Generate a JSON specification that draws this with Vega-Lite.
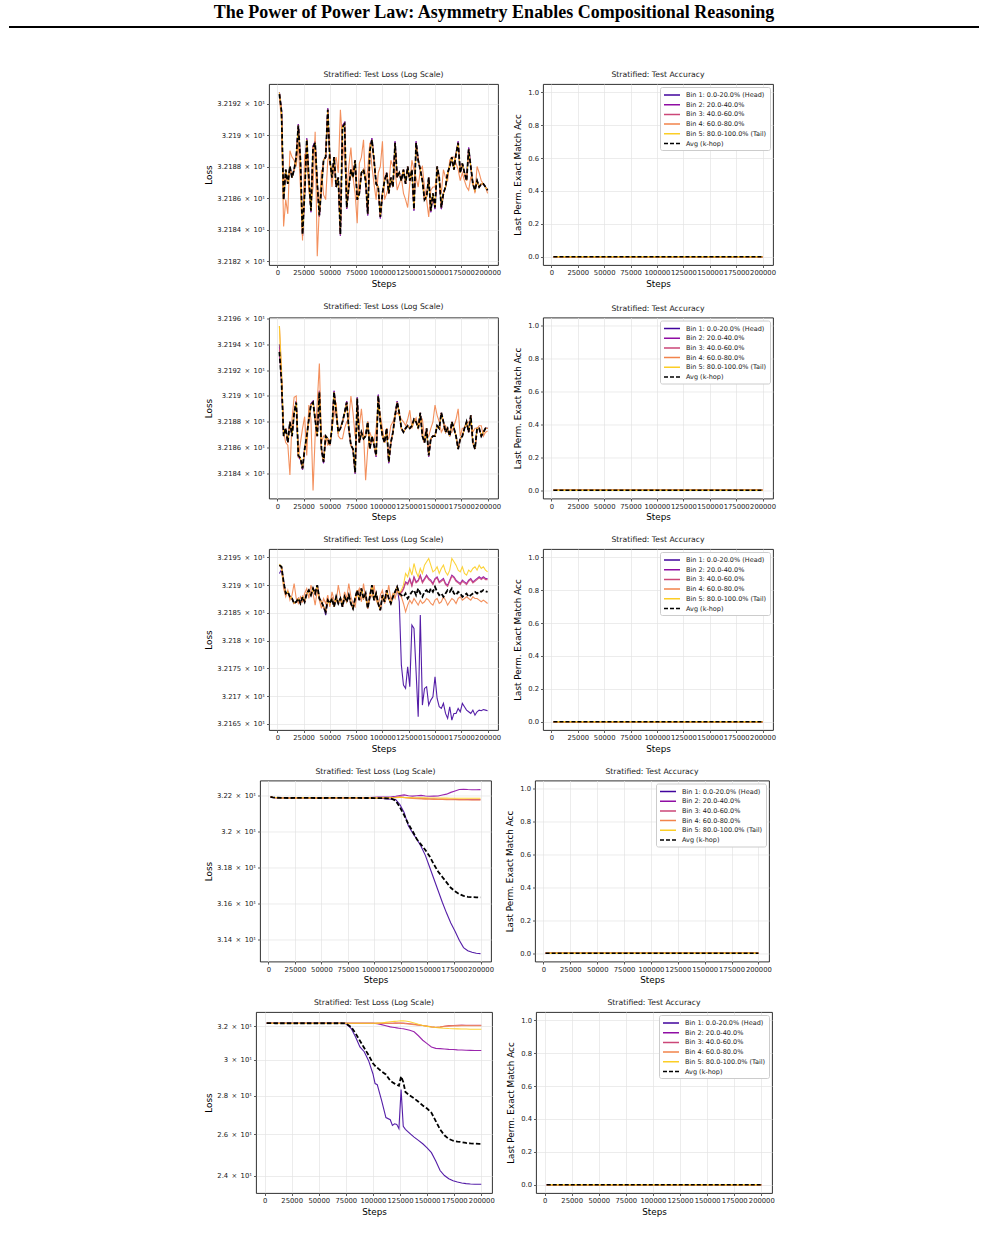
{
"$schema": "https://vega.github.io/schema/vega-lite/v6.json",
"padding": {"left": 8, "top": 4, "right": 5, "bottom": 5},
"config": {
 "font": "DejaVu Sans",
 "view": {"stroke": "#1a1a1a", "strokeWidth": 0.9},
 "axis": {"domain": false, "grid": true, "gridColor": "#e4e4e4", "gridWidth": 0.7, "tickColor": "#1a1a1a", "tickSize": 2.5, "tickWidth": 0.7, "labelFont": "DejaVu Sans", "labelFontSize": 6.8, "labelColor": "#1a1a1a", "labelPadding": 2, "labelOverlap": false, "labelFlush": false, "labelBound": false, "titleFont": "DejaVu Sans", "titleFontSize": 8.8, "titleFontWeight": "normal", "titleColor": "black", "titlePadding": 3},
 "title": {"font": "DejaVu Sans", "fontSize": 7.7, "fontWeight": "normal", "color": "#1a1a1a", "offset": 5},
 "legend": {"orient": "top-right", "offset": 3, "fillColor": "white", "strokeColor": "#cccccc", "padding": 3, "cornerRadius": 2, "labelFont": "DejaVu Sans", "labelFontSize": 6.5, "labelColor": "#1a1a1a", "symbolType": "M-2,0H2", "symbolSize": 64, "symbolStrokeWidth": 1.5, "symbolOffset": 4, "rowPadding": 0.7, "labelOffset": 9}
},
"datasets": {
"acc": [
{"s":2000,"series":"Bin 1: 0.0-20.0% (Head)","acc":0},{"s":200000,"series":"Bin 1: 0.0-20.0% (Head)","acc":0},
{"s":2000,"series":"Bin 2: 20.0-40.0%","acc":0},{"s":200000,"series":"Bin 2: 20.0-40.0%","acc":0},
{"s":2000,"series":"Bin 3: 40.0-60.0%","acc":0},{"s":200000,"series":"Bin 3: 40.0-60.0%","acc":0},
{"s":2000,"series":"Bin 4: 60.0-80.0%","acc":0},{"s":200000,"series":"Bin 4: 60.0-80.0%","acc":0},
{"s":2000,"series":"Bin 5: 80.0-100.0% (Tail)","acc":0},{"s":200000,"series":"Bin 5: 80.0-100.0% (Tail)","acc":0},
{"s":2000,"series":"Avg (k-hop)","acc":0},{"s":200000,"series":"Avg (k-hop)","acc":0}
],
"loss1": [
{"s":2000,"bin1":32.1927,"bin2":32.1927,"bin3":32.1926,"bin4":32.1924,"bin5":32.1927,"mean":32.1926},
{"s":4000,"bin1":32.1916,"bin2":32.1916,"bin3":32.1915,"bin4":32.1909,"bin5":32.1915,"mean":32.1915},
{"s":6000,"bin1":32.1859,"bin2":32.1859,"bin3":32.1859,"bin4":32.1842,"bin5":32.1859,"mean":32.1859},
{"s":8000,"bin1":32.1878,"bin2":32.1878,"bin3":32.1878,"bin4":32.1859,"bin5":32.1878,"mean":32.1878},
{"s":10000,"bin1":32.1869,"bin2":32.1869,"bin3":32.1869,"bin4":32.185,"bin5":32.1869,"mean":32.1869},
{"s":12000,"bin1":32.188,"bin2":32.188,"bin3":32.188,"bin4":32.189,"bin5":32.188,"mean":32.188},
{"s":14000,"bin1":32.1873,"bin2":32.1873,"bin3":32.1873,"bin4":32.1886,"bin5":32.1873,"mean":32.1873},
{"s":16000,"bin1":32.1878,"bin2":32.1878,"bin3":32.1878,"bin4":32.1884,"bin5":32.1878,"mean":32.1878},
{"s":18000,"bin1":32.1886,"bin2":32.1886,"bin3":32.1886,"bin4":32.188,"bin5":32.1886,"mean":32.1886},
{"s":20000,"bin1":32.1907,"bin2":32.1907,"bin3":32.1906,"bin4":32.1895,"bin5":32.1906,"mean":32.1906},
{"s":22000,"bin1":32.1884,"bin2":32.1884,"bin3":32.1884,"bin4":32.1867,"bin5":32.1884,"mean":32.1884},
{"s":24000,"bin1":32.1836,"bin2":32.1836,"bin3":32.1837,"bin4":32.1833,"bin5":32.1837,"mean":32.1837},
{"s":26000,"bin1":32.1863,"bin2":32.1863,"bin3":32.1863,"bin4":32.1888,"bin5":32.1863,"mean":32.1863},
{"s":28000,"bin1":32.1898,"bin2":32.1898,"bin3":32.1897,"bin4":32.1884,"bin5":32.1897,"mean":32.1897},
{"s":30000,"bin1":32.1873,"bin2":32.1873,"bin3":32.1873,"bin4":32.1865,"bin5":32.1873,"mean":32.1873},
{"s":32000,"bin1":32.1851,"bin2":32.1851,"bin3":32.1852,"bin4":32.1854,"bin5":32.1852,"mean":32.1852},
{"s":34000,"bin1":32.1893,"bin2":32.1893,"bin3":32.1892,"bin4":32.1867,"bin5":32.1892,"mean":32.1892},
{"s":36000,"bin1":32.1896,"bin2":32.1896,"bin3":32.1895,"bin4":32.1902,"bin5":32.1895,"mean":32.1895},
{"s":38000,"bin1":32.1869,"bin2":32.1869,"bin3":32.1869,"bin4":32.1823,"bin5":32.1869,"mean":32.1869},
{"s":40000,"bin1":32.1848,"bin2":32.1848,"bin3":32.1849,"bin4":32.1854,"bin5":32.1849,"mean":32.1849},
{"s":42000,"bin1":32.1867,"bin2":32.1867,"bin3":32.1867,"bin4":32.1878,"bin5":32.1867,"mean":32.1867},
{"s":44000,"bin1":32.1884,"bin2":32.1884,"bin3":32.1884,"bin4":32.1862,"bin5":32.1884,"mean":32.1884},
{"s":46000,"bin1":32.1886,"bin2":32.1886,"bin3":32.1886,"bin4":32.1859,"bin5":32.1886,"mean":32.1886},
{"s":48000,"bin1":32.1917,"bin2":32.1917,"bin3":32.1916,"bin4":32.1884,"bin5":32.1916,"mean":32.1916},
{"s":50000,"bin1":32.1884,"bin2":32.1884,"bin3":32.1884,"bin4":32.1888,"bin5":32.1884,"mean":32.1884},
{"s":52000,"bin1":32.1873,"bin2":32.1873,"bin3":32.1873,"bin4":32.1867,"bin5":32.1873,"mean":32.1873},
{"s":54000,"bin1":32.1886,"bin2":32.1886,"bin3":32.1886,"bin4":32.1882,"bin5":32.1886,"mean":32.1886},
{"s":56000,"bin1":32.1867,"bin2":32.1867,"bin3":32.1867,"bin4":32.1886,"bin5":32.1867,"mean":32.1867},
{"s":58000,"bin1":32.1873,"bin2":32.1873,"bin3":32.1873,"bin4":32.1876,"bin5":32.1873,"mean":32.1873},
{"s":60000,"bin1":32.1836,"bin2":32.1836,"bin3":32.1837,"bin4":32.1916,"bin5":32.1837,"mean":32.1837},
{"s":62000,"bin1":32.1906,"bin2":32.1906,"bin3":32.1905,"bin4":32.1896,"bin5":32.1905,"mean":32.1905},
{"s":64000,"bin1":32.1908,"bin2":32.1908,"bin3":32.1907,"bin4":32.1884,"bin5":32.1907,"mean":32.1907},
{"s":66000,"bin1":32.1853,"bin2":32.1853,"bin3":32.1854,"bin4":32.1863,"bin5":32.1854,"mean":32.1854},
{"s":68000,"bin1":32.1867,"bin2":32.1867,"bin3":32.1867,"bin4":32.188,"bin5":32.1867,"mean":32.1867},
{"s":70000,"bin1":32.1878,"bin2":32.1878,"bin3":32.1878,"bin4":32.1892,"bin5":32.1878,"mean":32.1878},
{"s":72000,"bin1":32.1873,"bin2":32.1873,"bin3":32.1873,"bin4":32.1873,"bin5":32.1873,"mean":32.1873},
{"s":74000,"bin1":32.1884,"bin2":32.1884,"bin3":32.1884,"bin4":32.1863,"bin5":32.1884,"mean":32.1884},
{"s":76000,"bin1":32.1859,"bin2":32.1859,"bin3":32.1859,"bin4":32.1844,"bin5":32.1859,"mean":32.1859},
{"s":78000,"bin1":32.1863,"bin2":32.1863,"bin3":32.1863,"bin4":32.1882,"bin5":32.1863,"mean":32.1863},
{"s":80000,"bin1":32.1876,"bin2":32.1876,"bin3":32.1876,"bin4":32.1886,"bin5":32.1876,"mean":32.1876},
{"s":82000,"bin1":32.1878,"bin2":32.1878,"bin3":32.1878,"bin4":32.1897,"bin5":32.1878,"mean":32.1878},
{"s":84000,"bin1":32.1871,"bin2":32.1871,"bin3":32.1871,"bin4":32.1867,"bin5":32.1871,"mean":32.1871},
{"s":86000,"bin1":32.1849,"bin2":32.1849,"bin3":32.185,"bin4":32.1878,"bin5":32.185,"mean":32.185},
{"s":88000,"bin1":32.1891,"bin2":32.1891,"bin3":32.189,"bin4":32.1895,"bin5":32.189,"mean":32.189},
{"s":90000,"bin1":32.1898,"bin2":32.1898,"bin3":32.1897,"bin4":32.188,"bin5":32.1897,"mean":32.1897},
{"s":92000,"bin1":32.1884,"bin2":32.1884,"bin3":32.1884,"bin4":32.1869,"bin5":32.1884,"mean":32.1884},
{"s":94000,"bin1":32.1869,"bin2":32.1869,"bin3":32.1869,"bin4":32.1859,"bin5":32.1869,"mean":32.1869},
{"s":96000,"bin1":32.1867,"bin2":32.1867,"bin3":32.1867,"bin4":32.1876,"bin5":32.1867,"mean":32.1867},
{"s":98000,"bin1":32.1847,"bin2":32.1847,"bin3":32.1848,"bin4":32.188,"bin5":32.1848,"mean":32.1848},
{"s":100000,"bin1":32.1863,"bin2":32.1863,"bin3":32.1863,"bin4":32.1896,"bin5":32.1863,"mean":32.1863},
{"s":102000,"bin1":32.1871,"bin2":32.1871,"bin3":32.1871,"bin4":32.1859,"bin5":32.1871,"mean":32.1871},
{"s":104000,"bin1":32.1876,"bin2":32.1876,"bin3":32.1876,"bin4":32.1863,"bin5":32.1876,"mean":32.1876},
{"s":106000,"bin1":32.1863,"bin2":32.1863,"bin3":32.1863,"bin4":32.1867,"bin5":32.1863,"mean":32.1863},
{"s":108000,"bin1":32.1873,"bin2":32.1873,"bin3":32.1873,"bin4":32.1884,"bin5":32.1873,"mean":32.1873},
{"s":110000,"bin1":32.1867,"bin2":32.1867,"bin3":32.1867,"bin4":32.188,"bin5":32.1867,"mean":32.1867},
{"s":112000,"bin1":32.1896,"bin2":32.1896,"bin3":32.1895,"bin4":32.1878,"bin5":32.1895,"mean":32.1895},
{"s":114000,"bin1":32.1873,"bin2":32.1873,"bin3":32.1873,"bin4":32.1865,"bin5":32.1873,"mean":32.1873},
{"s":116000,"bin1":32.1876,"bin2":32.1876,"bin3":32.1876,"bin4":32.1869,"bin5":32.1876,"mean":32.1876},
{"s":118000,"bin1":32.1871,"bin2":32.1871,"bin3":32.1871,"bin4":32.1873,"bin5":32.1871,"mean":32.1871},
{"s":120000,"bin1":32.1878,"bin2":32.1878,"bin3":32.1878,"bin4":32.1863,"bin5":32.1878,"mean":32.1878},
{"s":122000,"bin1":32.1869,"bin2":32.1869,"bin3":32.1869,"bin4":32.1859,"bin5":32.1869,"mean":32.1869},
{"s":124000,"bin1":32.188,"bin2":32.188,"bin3":32.188,"bin4":32.1854,"bin5":32.188,"mean":32.188},
{"s":126000,"bin1":32.1871,"bin2":32.1871,"bin3":32.1871,"bin4":32.1869,"bin5":32.1871,"mean":32.1871},
{"s":128000,"bin1":32.1878,"bin2":32.1878,"bin3":32.1878,"bin4":32.1884,"bin5":32.1878,"mean":32.1878},
{"s":130000,"bin1":32.1852,"bin2":32.1852,"bin3":32.1853,"bin4":32.1878,"bin5":32.1853,"mean":32.1853},
{"s":132000,"bin1":32.1896,"bin2":32.1896,"bin3":32.1895,"bin4":32.1873,"bin5":32.1895,"mean":32.1895},
{"s":134000,"bin1":32.1884,"bin2":32.1884,"bin3":32.1884,"bin4":32.1867,"bin5":32.1884,"mean":32.1884},
{"s":136000,"bin1":32.1878,"bin2":32.1878,"bin3":32.1878,"bin4":32.1878,"bin5":32.1878,"mean":32.1878},
{"s":138000,"bin1":32.1871,"bin2":32.1871,"bin3":32.1871,"bin4":32.188,"bin5":32.1871,"mean":32.1871},
{"s":140000,"bin1":32.1859,"bin2":32.1859,"bin3":32.1859,"bin4":32.1867,"bin5":32.1859,"mean":32.1859},
{"s":142000,"bin1":32.1861,"bin2":32.1861,"bin3":32.1861,"bin4":32.1859,"bin5":32.1861,"mean":32.1861},
{"s":144000,"bin1":32.1873,"bin2":32.1873,"bin3":32.1873,"bin4":32.1848,"bin5":32.1873,"mean":32.1873},
{"s":146000,"bin1":32.1851,"bin2":32.1851,"bin3":32.1852,"bin4":32.1865,"bin5":32.1852,"mean":32.1852},
{"s":148000,"bin1":32.1863,"bin2":32.1863,"bin3":32.1863,"bin4":32.1867,"bin5":32.1863,"mean":32.1863},
{"s":150000,"bin1":32.1853,"bin2":32.1853,"bin3":32.1854,"bin4":32.1867,"bin5":32.1854,"mean":32.1854},
{"s":152000,"bin1":32.188,"bin2":32.188,"bin3":32.188,"bin4":32.1876,"bin5":32.188,"mean":32.188},
{"s":154000,"bin1":32.1873,"bin2":32.1873,"bin3":32.1873,"bin4":32.1871,"bin5":32.1873,"mean":32.1873},
{"s":156000,"bin1":32.1853,"bin2":32.1853,"bin3":32.1854,"bin4":32.1863,"bin5":32.1854,"mean":32.1854},
{"s":158000,"bin1":32.1863,"bin2":32.1863,"bin3":32.1863,"bin4":32.1878,"bin5":32.1863,"mean":32.1863},
{"s":160000,"bin1":32.1867,"bin2":32.1867,"bin3":32.1867,"bin4":32.1873,"bin5":32.1867,"mean":32.1867},
{"s":162000,"bin1":32.1876,"bin2":32.1876,"bin3":32.1876,"bin4":32.1871,"bin5":32.1876,"mean":32.1876},
{"s":164000,"bin1":32.188,"bin2":32.188,"bin3":32.188,"bin4":32.1884,"bin5":32.188,"mean":32.188},
{"s":166000,"bin1":32.1886,"bin2":32.1886,"bin3":32.1886,"bin4":32.1886,"bin5":32.1886,"mean":32.1886},
{"s":168000,"bin1":32.1878,"bin2":32.1878,"bin3":32.1878,"bin4":32.1886,"bin5":32.1878,"mean":32.1878},
{"s":170000,"bin1":32.1888,"bin2":32.1888,"bin3":32.1888,"bin4":32.1882,"bin5":32.1888,"mean":32.1888},
{"s":172000,"bin1":32.1896,"bin2":32.1896,"bin3":32.1895,"bin4":32.1878,"bin5":32.1895,"mean":32.1895},
{"s":174000,"bin1":32.1876,"bin2":32.1876,"bin3":32.1876,"bin4":32.1871,"bin5":32.1876,"mean":32.1876},
{"s":176000,"bin1":32.1882,"bin2":32.1882,"bin3":32.1882,"bin4":32.1876,"bin5":32.1882,"mean":32.1882},
{"s":178000,"bin1":32.1876,"bin2":32.1876,"bin3":32.1876,"bin4":32.1871,"bin5":32.1876,"mean":32.1876},
{"s":180000,"bin1":32.1871,"bin2":32.1871,"bin3":32.1871,"bin4":32.1867,"bin5":32.1871,"mean":32.1871},
{"s":182000,"bin1":32.1892,"bin2":32.1892,"bin3":32.1891,"bin4":32.1865,"bin5":32.1891,"mean":32.1891},
{"s":184000,"bin1":32.188,"bin2":32.188,"bin3":32.188,"bin4":32.1873,"bin5":32.188,"mean":32.188},
{"s":186000,"bin1":32.1869,"bin2":32.1869,"bin3":32.1869,"bin4":32.1871,"bin5":32.1869,"mean":32.1869},
{"s":188000,"bin1":32.1865,"bin2":32.1865,"bin3":32.1865,"bin4":32.1863,"bin5":32.1865,"mean":32.1865},
{"s":190000,"bin1":32.1871,"bin2":32.1871,"bin3":32.1871,"bin4":32.188,"bin5":32.1871,"mean":32.1871},
{"s":192000,"bin1":32.1867,"bin2":32.1867,"bin3":32.1867,"bin4":32.1876,"bin5":32.1867,"mean":32.1867},
{"s":194000,"bin1":32.1869,"bin2":32.1869,"bin3":32.1869,"bin4":32.1871,"bin5":32.1869,"mean":32.1869},
{"s":196000,"bin1":32.1869,"bin2":32.1869,"bin3":32.1869,"bin4":32.1869,"bin5":32.1869,"mean":32.1869},
{"s":198000,"bin1":32.1867,"bin2":32.1867,"bin3":32.1867,"bin4":32.1867,"bin5":32.1867,"mean":32.1867},
{"s":200000,"bin1":32.1865,"bin2":32.1865,"bin3":32.1865,"bin4":32.1863,"bin5":32.1865,"mean":32.1865}
],
"loss2": [
{"s":2000,"bin1":32.194,"bin2":32.1938,"bin3":32.1936,"bin4":32.1954,"bin5":32.1954,"mean":32.1934},
{"s":4000,"bin1":32.1912,"bin2":32.1912,"bin3":32.1911,"bin4":32.1921,"bin5":32.1915,"mean":32.1911},
{"s":6000,"bin1":32.1869,"bin2":32.1869,"bin3":32.1869,"bin4":32.1872,"bin5":32.1869,"mean":32.1869},
{"s":8000,"bin1":32.1875,"bin2":32.1875,"bin3":32.1875,"bin4":32.1864,"bin5":32.1875,"mean":32.1875},
{"s":10000,"bin1":32.1864,"bin2":32.1864,"bin3":32.1864,"bin4":32.1862,"bin5":32.1864,"mean":32.1864},
{"s":12000,"bin1":32.188,"bin2":32.188,"bin3":32.188,"bin4":32.1839,"bin5":32.188,"mean":32.188},
{"s":14000,"bin1":32.1869,"bin2":32.1869,"bin3":32.1869,"bin4":32.1882,"bin5":32.1869,"mean":32.1869},
{"s":16000,"bin1":32.1887,"bin2":32.1887,"bin3":32.1887,"bin4":32.1899,"bin5":32.1887,"mean":32.1887},
{"s":18000,"bin1":32.1896,"bin2":32.1896,"bin3":32.1895,"bin4":32.19,"bin5":32.1895,"mean":32.1895},
{"s":20000,"bin1":32.1853,"bin2":32.1853,"bin3":32.1854,"bin4":32.1852,"bin5":32.1854,"mean":32.1854},
{"s":22000,"bin1":32.1851,"bin2":32.1851,"bin3":32.1852,"bin4":32.1864,"bin5":32.1852,"mean":32.1852},
{"s":24000,"bin1":32.1843,"bin2":32.1843,"bin3":32.1844,"bin4":32.1875,"bin5":32.1844,"mean":32.1844},
{"s":26000,"bin1":32.1859,"bin2":32.1859,"bin3":32.1859,"bin4":32.1884,"bin5":32.1859,"mean":32.1859},
{"s":28000,"bin1":32.1869,"bin2":32.1869,"bin3":32.1869,"bin4":32.1854,"bin5":32.1869,"mean":32.1869},
{"s":30000,"bin1":32.1882,"bin2":32.1882,"bin3":32.1882,"bin4":32.1893,"bin5":32.1882,"mean":32.1882},
{"s":32000,"bin1":32.1894,"bin2":32.1894,"bin3":32.1893,"bin4":32.1882,"bin5":32.1893,"mean":32.1893},
{"s":34000,"bin1":32.1896,"bin2":32.1896,"bin3":32.1895,"bin4":32.1827,"bin5":32.1895,"mean":32.1895},
{"s":36000,"bin1":32.1882,"bin2":32.1882,"bin3":32.1882,"bin4":32.1869,"bin5":32.1882,"mean":32.1882},
{"s":38000,"bin1":32.1869,"bin2":32.1869,"bin3":32.1869,"bin4":32.1895,"bin5":32.1869,"mean":32.1869},
{"s":40000,"bin1":32.1904,"bin2":32.1904,"bin3":32.1903,"bin4":32.1925,"bin5":32.1903,"mean":32.1903},
{"s":42000,"bin1":32.1859,"bin2":32.1859,"bin3":32.1859,"bin4":32.1864,"bin5":32.1859,"mean":32.1859},
{"s":44000,"bin1":32.1848,"bin2":32.1848,"bin3":32.1849,"bin4":32.1869,"bin5":32.1849,"mean":32.1849},
{"s":46000,"bin1":32.1869,"bin2":32.1869,"bin3":32.1869,"bin4":32.1869,"bin5":32.1869,"mean":32.1869},
{"s":48000,"bin1":32.1867,"bin2":32.1867,"bin3":32.1867,"bin4":32.1862,"bin5":32.1867,"mean":32.1867},
{"s":50000,"bin1":32.1862,"bin2":32.1862,"bin3":32.1862,"bin4":32.1864,"bin5":32.1862,"mean":32.1862},
{"s":52000,"bin1":32.1875,"bin2":32.1875,"bin3":32.1875,"bin4":32.1875,"bin5":32.1875,"mean":32.1875},
{"s":54000,"bin1":32.1904,"bin2":32.1904,"bin3":32.1903,"bin4":32.1885,"bin5":32.1903,"mean":32.1903},
{"s":56000,"bin1":32.1887,"bin2":32.1887,"bin3":32.1887,"bin4":32.1895,"bin5":32.1887,"mean":32.1887},
{"s":58000,"bin1":32.1872,"bin2":32.1872,"bin3":32.1872,"bin4":32.1869,"bin5":32.1872,"mean":32.1872},
{"s":60000,"bin1":32.1875,"bin2":32.1875,"bin3":32.1875,"bin4":32.1867,"bin5":32.1875,"mean":32.1875},
{"s":62000,"bin1":32.188,"bin2":32.188,"bin3":32.188,"bin4":32.1867,"bin5":32.188,"mean":32.188},
{"s":64000,"bin1":32.1887,"bin2":32.1887,"bin3":32.1887,"bin4":32.1875,"bin5":32.1887,"mean":32.1887},
{"s":66000,"bin1":32.1896,"bin2":32.1896,"bin3":32.1895,"bin4":32.188,"bin5":32.1895,"mean":32.1895},
{"s":68000,"bin1":32.1875,"bin2":32.1875,"bin3":32.1875,"bin4":32.1882,"bin5":32.1875,"mean":32.1875},
{"s":70000,"bin1":32.1862,"bin2":32.1862,"bin3":32.1862,"bin4":32.19,"bin5":32.1862,"mean":32.1862},
{"s":72000,"bin1":32.1859,"bin2":32.1859,"bin3":32.1859,"bin4":32.1887,"bin5":32.1859,"mean":32.1859},
{"s":74000,"bin1":32.184,"bin2":32.184,"bin3":32.1841,"bin4":32.1869,"bin5":32.1841,"mean":32.1841},
{"s":76000,"bin1":32.1899,"bin2":32.1899,"bin3":32.1898,"bin4":32.1875,"bin5":32.1898,"mean":32.1898},
{"s":78000,"bin1":32.1864,"bin2":32.1864,"bin3":32.1864,"bin4":32.1877,"bin5":32.1864,"mean":32.1864},
{"s":80000,"bin1":32.1872,"bin2":32.1872,"bin3":32.1872,"bin4":32.189,"bin5":32.1872,"mean":32.1872},
{"s":82000,"bin1":32.1867,"bin2":32.1867,"bin3":32.1867,"bin4":32.1872,"bin5":32.1867,"mean":32.1867},
{"s":84000,"bin1":32.1869,"bin2":32.1869,"bin3":32.1869,"bin4":32.1835,"bin5":32.1869,"mean":32.1869},
{"s":86000,"bin1":32.188,"bin2":32.188,"bin3":32.188,"bin4":32.1859,"bin5":32.188,"mean":32.188},
{"s":88000,"bin1":32.1859,"bin2":32.1859,"bin3":32.1859,"bin4":32.1872,"bin5":32.1859,"mean":32.1859},
{"s":90000,"bin1":32.1869,"bin2":32.1869,"bin3":32.1869,"bin4":32.1867,"bin5":32.1869,"mean":32.1869},
{"s":92000,"bin1":32.1862,"bin2":32.1862,"bin3":32.1862,"bin4":32.1864,"bin5":32.1862,"mean":32.1862},
{"s":94000,"bin1":32.1853,"bin2":32.1853,"bin3":32.1854,"bin4":32.1875,"bin5":32.1854,"mean":32.1854},
{"s":96000,"bin1":32.1901,"bin2":32.1901,"bin3":32.19,"bin4":32.1895,"bin5":32.19,"mean":32.19},
{"s":98000,"bin1":32.188,"bin2":32.188,"bin3":32.188,"bin4":32.1885,"bin5":32.188,"mean":32.188},
{"s":100000,"bin1":32.1869,"bin2":32.1869,"bin3":32.1869,"bin4":32.1875,"bin5":32.1869,"mean":32.1869},
{"s":102000,"bin1":32.1864,"bin2":32.1864,"bin3":32.1864,"bin4":32.1864,"bin5":32.1864,"mean":32.1864},
{"s":104000,"bin1":32.1875,"bin2":32.1875,"bin3":32.1875,"bin4":32.1869,"bin5":32.1875,"mean":32.1875},
{"s":106000,"bin1":32.1848,"bin2":32.1848,"bin3":32.1849,"bin4":32.1867,"bin5":32.1849,"mean":32.1849},
{"s":108000,"bin1":32.1864,"bin2":32.1864,"bin3":32.1864,"bin4":32.1877,"bin5":32.1864,"mean":32.1864},
{"s":110000,"bin1":32.1872,"bin2":32.1872,"bin3":32.1872,"bin4":32.188,"bin5":32.1872,"mean":32.1872},
{"s":112000,"bin1":32.1885,"bin2":32.1885,"bin3":32.1885,"bin4":32.1885,"bin5":32.1885,"mean":32.1885},
{"s":114000,"bin1":32.1896,"bin2":32.1896,"bin3":32.1895,"bin4":32.1887,"bin5":32.1895,"mean":32.1895},
{"s":116000,"bin1":32.1887,"bin2":32.1887,"bin3":32.1887,"bin4":32.1885,"bin5":32.1887,"mean":32.1887},
{"s":118000,"bin1":32.1875,"bin2":32.1875,"bin3":32.1875,"bin4":32.1882,"bin5":32.1875,"mean":32.1875},
{"s":120000,"bin1":32.1872,"bin2":32.1872,"bin3":32.1872,"bin4":32.188,"bin5":32.1872,"mean":32.1872},
{"s":122000,"bin1":32.1875,"bin2":32.1875,"bin3":32.1875,"bin4":32.1877,"bin5":32.1875,"mean":32.1875},
{"s":124000,"bin1":32.1877,"bin2":32.1877,"bin3":32.1877,"bin4":32.1882,"bin5":32.1877,"mean":32.1877},
{"s":126000,"bin1":32.1875,"bin2":32.1875,"bin3":32.1875,"bin4":32.1889,"bin5":32.1875,"mean":32.1875},
{"s":128000,"bin1":32.1877,"bin2":32.1877,"bin3":32.1877,"bin4":32.1875,"bin5":32.1877,"mean":32.1877},
{"s":130000,"bin1":32.1882,"bin2":32.1882,"bin3":32.1882,"bin4":32.188,"bin5":32.1882,"mean":32.1882},
{"s":132000,"bin1":32.188,"bin2":32.188,"bin3":32.188,"bin4":32.1883,"bin5":32.188,"mean":32.188},
{"s":134000,"bin1":32.1875,"bin2":32.1875,"bin3":32.1875,"bin4":32.1875,"bin5":32.1875,"mean":32.1875},
{"s":136000,"bin1":32.1887,"bin2":32.1887,"bin3":32.1887,"bin4":32.188,"bin5":32.1887,"mean":32.1887},
{"s":138000,"bin1":32.1869,"bin2":32.1869,"bin3":32.1869,"bin4":32.1882,"bin5":32.1869,"mean":32.1869},
{"s":140000,"bin1":32.1864,"bin2":32.1864,"bin3":32.1864,"bin4":32.1867,"bin5":32.1864,"mean":32.1864},
{"s":142000,"bin1":32.1875,"bin2":32.1875,"bin3":32.1875,"bin4":32.1869,"bin5":32.1875,"mean":32.1875},
{"s":144000,"bin1":32.1853,"bin2":32.1853,"bin3":32.1854,"bin4":32.1869,"bin5":32.1854,"mean":32.1854},
{"s":146000,"bin1":32.1867,"bin2":32.1867,"bin3":32.1867,"bin4":32.1875,"bin5":32.1867,"mean":32.1867},
{"s":148000,"bin1":32.1869,"bin2":32.1869,"bin3":32.1869,"bin4":32.188,"bin5":32.1869,"mean":32.1869},
{"s":150000,"bin1":32.1869,"bin2":32.1869,"bin3":32.1869,"bin4":32.1893,"bin5":32.1869,"mean":32.1869},
{"s":152000,"bin1":32.1877,"bin2":32.1877,"bin3":32.1877,"bin4":32.1885,"bin5":32.1877,"mean":32.1877},
{"s":154000,"bin1":32.1875,"bin2":32.1875,"bin3":32.1875,"bin4":32.188,"bin5":32.1875,"mean":32.1875},
{"s":156000,"bin1":32.1887,"bin2":32.1887,"bin3":32.1887,"bin4":32.1872,"bin5":32.1887,"mean":32.1887},
{"s":158000,"bin1":32.188,"bin2":32.188,"bin3":32.188,"bin4":32.1875,"bin5":32.188,"mean":32.188},
{"s":160000,"bin1":32.1872,"bin2":32.1872,"bin3":32.1872,"bin4":32.1877,"bin5":32.1872,"mean":32.1872},
{"s":162000,"bin1":32.1875,"bin2":32.1875,"bin3":32.1875,"bin4":32.1872,"bin5":32.1875,"mean":32.1875},
{"s":164000,"bin1":32.1869,"bin2":32.1869,"bin3":32.1869,"bin4":32.1871,"bin5":32.1869,"mean":32.1869},
{"s":166000,"bin1":32.188,"bin2":32.188,"bin3":32.188,"bin4":32.1872,"bin5":32.188,"mean":32.188},
{"s":168000,"bin1":32.1875,"bin2":32.1875,"bin3":32.1875,"bin4":32.1877,"bin5":32.1875,"mean":32.1875},
{"s":170000,"bin1":32.1869,"bin2":32.1869,"bin3":32.1869,"bin4":32.1882,"bin5":32.1869,"mean":32.1869},
{"s":172000,"bin1":32.1859,"bin2":32.1859,"bin3":32.1859,"bin4":32.189,"bin5":32.1859,"mean":32.1859},
{"s":174000,"bin1":32.1867,"bin2":32.1867,"bin3":32.1867,"bin4":32.1869,"bin5":32.1867,"mean":32.1867},
{"s":176000,"bin1":32.1869,"bin2":32.1869,"bin3":32.1869,"bin4":32.1875,"bin5":32.1869,"mean":32.1869},
{"s":178000,"bin1":32.1875,"bin2":32.1875,"bin3":32.1875,"bin4":32.1875,"bin5":32.1875,"mean":32.1875},
{"s":180000,"bin1":32.188,"bin2":32.188,"bin3":32.188,"bin4":32.1877,"bin5":32.188,"mean":32.188},
{"s":182000,"bin1":32.1872,"bin2":32.1872,"bin3":32.1872,"bin4":32.188,"bin5":32.1872,"mean":32.1872},
{"s":184000,"bin1":32.1885,"bin2":32.1885,"bin3":32.1885,"bin4":32.188,"bin5":32.1885,"mean":32.1885},
{"s":186000,"bin1":32.1864,"bin2":32.1864,"bin3":32.1864,"bin4":32.1872,"bin5":32.1864,"mean":32.1864},
{"s":188000,"bin1":32.1859,"bin2":32.1859,"bin3":32.1859,"bin4":32.1875,"bin5":32.1859,"mean":32.1859},
{"s":190000,"bin1":32.1875,"bin2":32.1875,"bin3":32.1875,"bin4":32.1875,"bin5":32.1875,"mean":32.1875},
{"s":192000,"bin1":32.1875,"bin2":32.1875,"bin3":32.1875,"bin4":32.1877,"bin5":32.1875,"mean":32.1875},
{"s":194000,"bin1":32.1869,"bin2":32.1869,"bin3":32.1869,"bin4":32.1877,"bin5":32.1869,"mean":32.1869},
{"s":196000,"bin1":32.1872,"bin2":32.1872,"bin3":32.1872,"bin4":32.1869,"bin5":32.1872,"mean":32.1872},
{"s":198000,"bin1":32.1875,"bin2":32.1875,"bin3":32.1875,"bin4":32.1872,"bin5":32.1875,"mean":32.1875},
{"s":200000,"bin1":32.1875,"bin2":32.1875,"bin3":32.1875,"bin4":32.1873,"bin5":32.1875,"mean":32.1875}
],
"loss3": [
{"s":2000,"bin1":32.1921,"bin2":32.1936,"bin3":32.1936,"bin4":32.1936,"bin5":32.1938,"mean":32.1936},
{"s":4000,"bin1":32.1928,"bin2":32.1933,"bin3":32.1933,"bin4":32.193,"bin5":32.1933,"mean":32.1933},
{"s":6000,"bin1":32.1906,"bin2":32.1906,"bin3":32.1906,"bin4":32.1894,"bin5":32.1906,"mean":32.1906},
{"s":8000,"bin1":32.1885,"bin2":32.1885,"bin3":32.1885,"bin4":32.1879,"bin5":32.1885,"mean":32.1885},
{"s":10000,"bin1":32.1888,"bin2":32.1888,"bin3":32.1888,"bin4":32.1891,"bin5":32.1888,"mean":32.1888},
{"s":12000,"bin1":32.1879,"bin2":32.1879,"bin3":32.1879,"bin4":32.1873,"bin5":32.1879,"mean":32.1879},
{"s":14000,"bin1":32.1876,"bin2":32.1876,"bin3":32.1876,"bin4":32.1882,"bin5":32.1876,"mean":32.1876},
{"s":16000,"bin1":32.1867,"bin2":32.1867,"bin3":32.1867,"bin4":32.1903,"bin5":32.1867,"mean":32.1867},
{"s":18000,"bin1":32.187,"bin2":32.187,"bin3":32.187,"bin4":32.1876,"bin5":32.187,"mean":32.187},
{"s":20000,"bin1":32.1876,"bin2":32.1876,"bin3":32.1876,"bin4":32.1867,"bin5":32.1876,"mean":32.1876},
{"s":22000,"bin1":32.1867,"bin2":32.1867,"bin3":32.1867,"bin4":32.1879,"bin5":32.1867,"mean":32.1867},
{"s":24000,"bin1":32.1879,"bin2":32.1879,"bin3":32.1879,"bin4":32.187,"bin5":32.1879,"mean":32.1879},
{"s":26000,"bin1":32.187,"bin2":32.187,"bin3":32.187,"bin4":32.1885,"bin5":32.187,"mean":32.187},
{"s":28000,"bin1":32.1885,"bin2":32.1885,"bin3":32.1885,"bin4":32.1894,"bin5":32.1885,"mean":32.1885},
{"s":30000,"bin1":32.1891,"bin2":32.1891,"bin3":32.1891,"bin4":32.1876,"bin5":32.1891,"mean":32.1891},
{"s":32000,"bin1":32.1882,"bin2":32.1882,"bin3":32.1882,"bin4":32.19,"bin5":32.1882,"mean":32.1882},
{"s":34000,"bin1":32.1894,"bin2":32.1894,"bin3":32.1894,"bin4":32.1885,"bin5":32.1894,"mean":32.1894},
{"s":36000,"bin1":32.1885,"bin2":32.1885,"bin3":32.1885,"bin4":32.1864,"bin5":32.1885,"mean":32.1885},
{"s":38000,"bin1":32.19,"bin2":32.19,"bin3":32.19,"bin4":32.1891,"bin5":32.19,"mean":32.19},
{"s":40000,"bin1":32.1876,"bin2":32.1876,"bin3":32.1876,"bin4":32.1873,"bin5":32.1876,"mean":32.1876},
{"s":42000,"bin1":32.187,"bin2":32.187,"bin3":32.187,"bin4":32.1858,"bin5":32.187,"mean":32.187},
{"s":44000,"bin1":32.1861,"bin2":32.1861,"bin3":32.1861,"bin4":32.1876,"bin5":32.1861,"mean":32.1861},
{"s":46000,"bin1":32.1846,"bin2":32.1852,"bin3":32.1852,"bin4":32.1867,"bin5":32.1852,"mean":32.1852},
{"s":48000,"bin1":32.1873,"bin2":32.1873,"bin3":32.1873,"bin4":32.1882,"bin5":32.1873,"mean":32.1873},
{"s":50000,"bin1":32.1867,"bin2":32.1867,"bin3":32.1867,"bin4":32.1861,"bin5":32.1867,"mean":32.1867},
{"s":52000,"bin1":32.1876,"bin2":32.1876,"bin3":32.1876,"bin4":32.1888,"bin5":32.1876,"mean":32.1876},
{"s":54000,"bin1":32.1861,"bin2":32.1861,"bin3":32.1861,"bin4":32.1873,"bin5":32.1861,"mean":32.1861},
{"s":56000,"bin1":32.1879,"bin2":32.1879,"bin3":32.1879,"bin4":32.187,"bin5":32.1879,"mean":32.1879},
{"s":58000,"bin1":32.1867,"bin2":32.1867,"bin3":32.1867,"bin4":32.19,"bin5":32.1867,"mean":32.1867},
{"s":60000,"bin1":32.1876,"bin2":32.1876,"bin3":32.1876,"bin4":32.1879,"bin5":32.1876,"mean":32.1876},
{"s":62000,"bin1":32.1861,"bin2":32.1861,"bin3":32.1861,"bin4":32.1867,"bin5":32.1861,"mean":32.1861},
{"s":64000,"bin1":32.1879,"bin2":32.1879,"bin3":32.1879,"bin4":32.1888,"bin5":32.1879,"mean":32.1879},
{"s":66000,"bin1":32.187,"bin2":32.187,"bin3":32.187,"bin4":32.1876,"bin5":32.187,"mean":32.187},
{"s":68000,"bin1":32.1882,"bin2":32.1882,"bin3":32.1882,"bin4":32.1903,"bin5":32.1882,"mean":32.1882},
{"s":70000,"bin1":32.1867,"bin2":32.1867,"bin3":32.1867,"bin4":32.1879,"bin5":32.1867,"mean":32.1867},
{"s":72000,"bin1":32.1858,"bin2":32.1858,"bin3":32.1858,"bin4":32.1867,"bin5":32.1858,"mean":32.1858},
{"s":74000,"bin1":32.1876,"bin2":32.1876,"bin3":32.1876,"bin4":32.1861,"bin5":32.1876,"mean":32.1876},
{"s":76000,"bin1":32.1891,"bin2":32.1891,"bin3":32.1891,"bin4":32.1885,"bin5":32.1891,"mean":32.1891},
{"s":78000,"bin1":32.1873,"bin2":32.1873,"bin3":32.1873,"bin4":32.1894,"bin5":32.1873,"mean":32.1873},
{"s":80000,"bin1":32.1894,"bin2":32.1894,"bin3":32.1894,"bin4":32.187,"bin5":32.1894,"mean":32.1894},
{"s":82000,"bin1":32.1876,"bin2":32.1876,"bin3":32.1876,"bin4":32.1903,"bin5":32.1876,"mean":32.1876},
{"s":84000,"bin1":32.1885,"bin2":32.1885,"bin3":32.1885,"bin4":32.1876,"bin5":32.1885,"mean":32.1885},
{"s":86000,"bin1":32.1858,"bin2":32.1858,"bin3":32.1858,"bin4":32.1861,"bin5":32.1858,"mean":32.1858},
{"s":88000,"bin1":32.1879,"bin2":32.1879,"bin3":32.1879,"bin4":32.1885,"bin5":32.1879,"mean":32.1879},
{"s":90000,"bin1":32.19,"bin2":32.19,"bin3":32.19,"bin4":32.1879,"bin5":32.19,"mean":32.19},
{"s":92000,"bin1":32.1873,"bin2":32.1873,"bin3":32.1873,"bin4":32.19,"bin5":32.1873,"mean":32.1873},
{"s":94000,"bin1":32.1885,"bin2":32.1885,"bin3":32.1885,"bin4":32.1873,"bin5":32.1885,"mean":32.1885},
{"s":96000,"bin1":32.1867,"bin2":32.1867,"bin3":32.1867,"bin4":32.1864,"bin5":32.1867,"mean":32.1867},
{"s":98000,"bin1":32.1855,"bin2":32.1855,"bin3":32.1855,"bin4":32.1882,"bin5":32.1855,"mean":32.1855},
{"s":100000,"bin1":32.1882,"bin2":32.1882,"bin3":32.1882,"bin4":32.1891,"bin5":32.1882,"mean":32.1882},
{"s":102000,"bin1":32.187,"bin2":32.187,"bin3":32.187,"bin4":32.1867,"bin5":32.187,"mean":32.187},
{"s":104000,"bin1":32.1891,"bin2":32.1891,"bin3":32.1891,"bin4":32.1879,"bin5":32.1891,"mean":32.1891},
{"s":106000,"bin1":32.1876,"bin2":32.1876,"bin3":32.1876,"bin4":32.19,"bin5":32.1876,"mean":32.1876},
{"s":108000,"bin1":32.1867,"bin2":32.1867,"bin3":32.1867,"bin4":32.1873,"bin5":32.1867,"mean":32.1867},
{"s":110000,"bin1":32.1879,"bin2":32.1879,"bin3":32.1879,"bin4":32.1885,"bin5":32.1879,"mean":32.1879},
{"s":112000,"bin1":32.1888,"bin2":32.1888,"bin3":32.1888,"bin4":32.1876,"bin5":32.1888,"mean":32.1888},
{"s":114000,"bin1":32.1897,"bin2":32.1897,"bin3":32.1897,"bin4":32.1891,"bin5":32.1897,"mean":32.1897},
{"s":116000,"bin1":32.187,"bin2":32.1885,"bin3":32.1885,"bin4":32.1882,"bin5":32.1885,"mean":32.1885},
{"s":118000,"bin1":32.1756,"bin2":32.1888,"bin3":32.1886,"bin4":32.1879,"bin5":32.1891,"mean":32.1882},
{"s":120000,"bin1":32.172,"bin2":32.1894,"bin3":32.1892,"bin4":32.1867,"bin5":32.19,"mean":32.1879},
{"s":122000,"bin1":32.1714,"bin2":32.1906,"bin3":32.1904,"bin4":32.1852,"bin5":32.1921,"mean":32.1885},
{"s":124000,"bin1":32.1753,"bin2":32.1903,"bin3":32.1901,"bin4":32.1864,"bin5":32.1915,"mean":32.1876},
{"s":126000,"bin1":32.1717,"bin2":32.1912,"bin3":32.191,"bin4":32.1873,"bin5":32.193,"mean":32.1882},
{"s":128000,"bin1":32.1828,"bin2":32.19,"bin3":32.1898,"bin4":32.1867,"bin5":32.1918,"mean":32.1888},
{"s":130000,"bin1":32.1822,"bin2":32.1915,"bin3":32.1913,"bin4":32.1876,"bin5":32.1939,"mean":32.1891},
{"s":132000,"bin1":32.1744,"bin2":32.1906,"bin3":32.1904,"bin4":32.187,"bin5":32.1924,"mean":32.1882},
{"s":134000,"bin1":32.1663,"bin2":32.1909,"bin3":32.1907,"bin4":32.1864,"bin5":32.1915,"mean":32.1894},
{"s":136000,"bin1":32.1846,"bin2":32.1918,"bin3":32.1916,"bin4":32.1873,"bin5":32.193,"mean":32.1885},
{"s":138000,"bin1":32.1684,"bin2":32.1906,"bin3":32.1904,"bin4":32.1867,"bin5":32.1921,"mean":32.1879},
{"s":140000,"bin1":32.1714,"bin2":32.1912,"bin3":32.191,"bin4":32.187,"bin5":32.1936,"mean":32.1888},
{"s":142000,"bin1":32.1717,"bin2":32.1918,"bin3":32.1916,"bin4":32.1876,"bin5":32.1942,"mean":32.1891},
{"s":144000,"bin1":32.1684,"bin2":32.1912,"bin3":32.191,"bin4":32.1873,"bin5":32.1948,"mean":32.1885},
{"s":146000,"bin1":32.1693,"bin2":32.1909,"bin3":32.1907,"bin4":32.1867,"bin5":32.1936,"mean":32.1894},
{"s":148000,"bin1":32.1699,"bin2":32.1903,"bin3":32.1901,"bin4":32.1864,"bin5":32.1924,"mean":32.1888},
{"s":150000,"bin1":32.1735,"bin2":32.1912,"bin3":32.191,"bin4":32.1873,"bin5":32.1927,"mean":32.1897},
{"s":152000,"bin1":32.1696,"bin2":32.1915,"bin3":32.1913,"bin4":32.1876,"bin5":32.1933,"mean":32.1888},
{"s":154000,"bin1":32.1681,"bin2":32.1906,"bin3":32.1904,"bin4":32.1867,"bin5":32.1921,"mean":32.1882},
{"s":156000,"bin1":32.1678,"bin2":32.1909,"bin3":32.1907,"bin4":32.187,"bin5":32.193,"mean":32.1885},
{"s":158000,"bin1":32.1687,"bin2":32.1912,"bin3":32.191,"bin4":32.1879,"bin5":32.1936,"mean":32.1879},
{"s":160000,"bin1":32.1669,"bin2":32.1903,"bin3":32.1901,"bin4":32.1873,"bin5":32.1924,"mean":32.1885},
{"s":162000,"bin1":32.166,"bin2":32.19,"bin3":32.1898,"bin4":32.1864,"bin5":32.1918,"mean":32.1891},
{"s":164000,"bin1":32.1681,"bin2":32.1909,"bin3":32.1907,"bin4":32.187,"bin5":32.1927,"mean":32.1888},
{"s":166000,"bin1":32.1657,"bin2":32.1918,"bin3":32.1916,"bin4":32.1876,"bin5":32.1948,"mean":32.1894},
{"s":168000,"bin1":32.1669,"bin2":32.1915,"bin3":32.1913,"bin4":32.1873,"bin5":32.1942,"mean":32.1885},
{"s":170000,"bin1":32.1669,"bin2":32.1909,"bin3":32.1907,"bin4":32.1867,"bin5":32.1936,"mean":32.1882},
{"s":172000,"bin1":32.1678,"bin2":32.1906,"bin3":32.1904,"bin4":32.1876,"bin5":32.1927,"mean":32.1888},
{"s":174000,"bin1":32.1672,"bin2":32.1903,"bin3":32.1901,"bin4":32.1879,"bin5":32.1924,"mean":32.1885},
{"s":176000,"bin1":32.1687,"bin2":32.1909,"bin3":32.1907,"bin4":32.1873,"bin5":32.1933,"mean":32.1879},
{"s":178000,"bin1":32.1681,"bin2":32.1906,"bin3":32.1904,"bin4":32.1876,"bin5":32.1921,"mean":32.1882},
{"s":180000,"bin1":32.1675,"bin2":32.1903,"bin3":32.1901,"bin4":32.1879,"bin5":32.1918,"mean":32.1885},
{"s":182000,"bin1":32.1672,"bin2":32.1909,"bin3":32.1907,"bin4":32.1876,"bin5":32.1927,"mean":32.1879},
{"s":184000,"bin1":32.1669,"bin2":32.1912,"bin3":32.191,"bin4":32.1873,"bin5":32.1924,"mean":32.1882},
{"s":186000,"bin1":32.1675,"bin2":32.1906,"bin3":32.1904,"bin4":32.1879,"bin5":32.193,"mean":32.1885},
{"s":188000,"bin1":32.1666,"bin2":32.1909,"bin3":32.1907,"bin4":32.1876,"bin5":32.1933,"mean":32.1888},
{"s":190000,"bin1":32.1672,"bin2":32.1912,"bin3":32.191,"bin4":32.1876,"bin5":32.1927,"mean":32.1885},
{"s":192000,"bin1":32.1675,"bin2":32.1915,"bin3":32.1913,"bin4":32.1873,"bin5":32.1936,"mean":32.1889},
{"s":194000,"bin1":32.1674,"bin2":32.1912,"bin3":32.191,"bin4":32.187,"bin5":32.193,"mean":32.1888},
{"s":196000,"bin1":32.1676,"bin2":32.1915,"bin3":32.1913,"bin4":32.1873,"bin5":32.1933,"mean":32.1891},
{"s":198000,"bin1":32.1675,"bin2":32.1912,"bin3":32.191,"bin4":32.187,"bin5":32.1927,"mean":32.1889},
{"s":200000,"bin1":32.1674,"bin2":32.1912,"bin3":32.191,"bin4":32.1867,"bin5":32.1924,"mean":32.1888}
],
"loss4": [
{"s":2000,"bin1":32.1926,"bin2":32.1926,"bin3":32.1926,"bin4":32.1926,"bin5":32.1926,"mean":32.1926},
{"s":4000,"bin1":32.19,"bin2":32.1901,"bin3":32.19,"bin4":32.1899,"bin5":32.19,"mean":32.19},
{"s":8000,"bin1":32.188,"bin2":32.188,"bin3":32.188,"bin4":32.188,"bin5":32.188,"mean":32.1878},
{"s":12000,"bin1":32.187,"bin2":32.187,"bin3":32.187,"bin4":32.187,"bin5":32.187,"mean":32.1868},
{"s":20000,"bin1":32.1866,"bin2":32.1866,"bin3":32.1866,"bin4":32.1866,"bin5":32.1866,"mean":32.1864},
{"s":30000,"bin1":32.1869,"bin2":32.1869,"bin3":32.1869,"bin4":32.1869,"bin5":32.1869,"mean":32.1866},
{"s":40000,"bin1":32.1868,"bin2":32.1868,"bin3":32.1868,"bin4":32.1868,"bin5":32.1868,"mean":32.1865},
{"s":50000,"bin1":32.1866,"bin2":32.1866,"bin3":32.1866,"bin4":32.1866,"bin5":32.1866,"mean":32.1864},
{"s":60000,"bin1":32.1869,"bin2":32.1869,"bin3":32.1869,"bin4":32.1869,"bin5":32.1869,"mean":32.1866},
{"s":70000,"bin1":32.1867,"bin2":32.1867,"bin3":32.1867,"bin4":32.1867,"bin5":32.1867,"mean":32.1865},
{"s":80000,"bin1":32.1868,"bin2":32.1868,"bin3":32.1868,"bin4":32.1868,"bin5":32.1868,"mean":32.1866},
{"s":90000,"bin1":32.1866,"bin2":32.188,"bin3":32.1866,"bin4":32.1866,"bin5":32.1866,"mean":32.1864},
{"s":100000,"bin1":32.186,"bin2":32.19,"bin3":32.1872,"bin4":32.187,"bin5":32.187,"mean":32.1862},
{"s":104000,"bin1":32.185,"bin2":32.191,"bin3":32.1875,"bin4":32.1872,"bin5":32.1872,"mean":32.1858},
{"s":108000,"bin1":32.184,"bin2":32.1912,"bin3":32.188,"bin4":32.1875,"bin5":32.1874,"mean":32.1852},
{"s":112000,"bin1":32.1815,"bin2":32.192,"bin3":32.1885,"bin4":32.188,"bin5":32.1876,"mean":32.1845},
{"s":116000,"bin1":32.18,"bin2":32.1935,"bin3":32.189,"bin4":32.1885,"bin5":32.1878,"mean":32.1825},
{"s":120000,"bin1":32.1778,"bin2":32.196,"bin3":32.19,"bin4":32.189,"bin5":32.188,"mean":32.172},
{"s":124000,"bin1":32.15,"bin2":32.2,"bin3":32.193,"bin4":32.192,"bin5":32.19,"mean":32.135},
{"s":128000,"bin1":32.105,"bin2":32.204,"bin3":32.19,"bin4":32.188,"bin5":32.189,"mean":32.09},
{"s":132000,"bin1":32.03,"bin2":32.199,"bin3":32.188,"bin4":32.186,"bin5":32.1885,"mean":32.04},
{"s":136000,"bin1":31.99,"bin2":32.197,"bin3":32.186,"bin4":32.184,"bin5":32.188,"mean":32.0},
{"s":140000,"bin1":31.955,"bin2":32.199,"bin3":32.185,"bin4":32.182,"bin5":32.1875,"mean":31.955},
{"s":144000,"bin1":31.915,"bin2":32.201,"bin3":32.184,"bin4":32.181,"bin5":32.187,"mean":31.925},
{"s":148000,"bin1":31.865,"bin2":32.198,"bin3":32.183,"bin4":32.18,"bin5":32.1868,"mean":31.895},
{"s":152000,"bin1":31.8,"bin2":32.196,"bin3":32.182,"bin4":32.179,"bin5":32.1865,"mean":31.86},
{"s":156000,"bin1":31.735,"bin2":32.197,"bin3":32.1815,"bin4":32.1785,"bin5":32.1862,"mean":31.815},
{"s":160000,"bin1":31.67,"bin2":32.198,"bin3":32.181,"bin4":32.178,"bin5":32.186,"mean":31.775},
{"s":164000,"bin1":31.605,"bin2":32.203,"bin3":32.18,"bin4":32.1775,"bin5":32.1858,"mean":31.745},
{"s":168000,"bin1":31.545,"bin2":32.208,"bin3":32.1795,"bin4":32.177,"bin5":32.1855,"mean":31.715},
{"s":172000,"bin1":31.49,"bin2":32.218,"bin3":32.179,"bin4":32.1765,"bin5":32.1853,"mean":31.685},
{"s":176000,"bin1":31.445,"bin2":32.226,"bin3":32.1785,"bin4":32.1762,"bin5":32.1852,"mean":31.665},
{"s":180000,"bin1":31.395,"bin2":32.234,"bin3":32.178,"bin4":32.176,"bin5":32.1851,"mean":31.65},
{"s":184000,"bin1":31.355,"bin2":32.236,"bin3":32.1778,"bin4":32.1757,"bin5":32.185,"mean":31.64},
{"s":188000,"bin1":31.338,"bin2":32.234,"bin3":32.1775,"bin4":32.1755,"bin5":32.185,"mean":31.635},
{"s":192000,"bin1":31.33,"bin2":32.233,"bin3":32.1773,"bin4":32.1752,"bin5":32.185,"mean":31.633},
{"s":196000,"bin1":31.324,"bin2":32.233,"bin3":32.1772,"bin4":32.1751,"bin5":32.185,"mean":31.632},
{"s":200000,"bin1":31.3222,"bin2":32.2335,"bin3":32.177,"bin4":32.175,"bin5":32.185,"mean":31.6315}
],
"loss5": [
{"s":2000,"bin1":32.19,"bin2":32.19,"bin3":32.19,"bin4":32.19,"bin5":32.19,"mean":32.19},
{"s":10000,"bin1":32.186,"bin2":32.186,"bin3":32.186,"bin4":32.186,"bin5":32.186,"mean":32.186},
{"s":20000,"bin1":32.186,"bin2":32.186,"bin3":32.186,"bin4":32.186,"bin5":32.186,"mean":32.186},
{"s":30000,"bin1":32.186,"bin2":32.186,"bin3":32.186,"bin4":32.186,"bin5":32.186,"mean":32.186},
{"s":40000,"bin1":32.186,"bin2":32.186,"bin3":32.186,"bin4":32.186,"bin5":32.186,"mean":32.186},
{"s":50000,"bin1":32.186,"bin2":32.186,"bin3":32.186,"bin4":32.186,"bin5":32.186,"mean":32.186},
{"s":60000,"bin1":32.186,"bin2":32.186,"bin3":32.186,"bin4":32.186,"bin5":32.186,"mean":32.186},
{"s":70000,"bin1":32.186,"bin2":32.186,"bin3":32.186,"bin4":32.186,"bin5":32.186,"mean":32.186},
{"s":74000,"bin1":32.17,"bin2":32.186,"bin3":32.186,"bin4":32.186,"bin5":32.186,"mean":32.18},
{"s":76000,"bin1":32.12,"bin2":32.186,"bin3":32.186,"bin4":32.186,"bin5":32.186,"mean":32.13},
{"s":80000,"bin1":31.86,"bin2":32.186,"bin3":32.186,"bin4":32.186,"bin5":32.186,"mean":31.95},
{"s":84000,"bin1":31.35,"bin2":32.186,"bin3":32.186,"bin4":32.186,"bin5":32.186,"mean":31.56},
{"s":88000,"bin1":30.75,"bin2":32.186,"bin3":32.186,"bin4":32.186,"bin5":32.186,"mean":31.12},
{"s":92000,"bin1":30.47,"bin2":32.186,"bin3":32.186,"bin4":32.186,"bin5":32.186,"mean":30.69},
{"s":96000,"bin1":29.95,"bin2":32.186,"bin3":32.186,"bin4":32.186,"bin5":32.186,"mean":30.27},
{"s":100000,"bin1":29.21,"bin2":32.186,"bin3":32.186,"bin4":32.186,"bin5":32.186,"mean":29.8},
{"s":102000,"bin1":28.66,"bin2":32.17,"bin3":32.186,"bin4":32.186,"bin5":32.186,"mean":29.66},
{"s":104000,"bin1":28.6,"bin2":32.15,"bin3":32.186,"bin4":32.186,"bin5":32.19,"mean":29.55},
{"s":108000,"bin1":27.75,"bin2":32.1,"bin3":32.186,"bin4":32.186,"bin5":32.2,"mean":29.33},
{"s":112000,"bin1":26.85,"bin2":32.03,"bin3":32.186,"bin4":32.186,"bin5":32.24,"mean":29.17},
{"s":116000,"bin1":26.74,"bin2":31.96,"bin3":32.186,"bin4":32.186,"bin5":32.28,"mean":28.82},
{"s":118000,"bin1":26.45,"bin2":31.94,"bin3":32.188,"bin4":32.188,"bin5":32.29,"mean":28.73},
{"s":120000,"bin1":26.53,"bin2":31.92,"bin3":32.19,"bin4":32.19,"bin5":32.3,"mean":28.66},
{"s":122000,"bin1":26.5,"bin2":31.9,"bin3":32.195,"bin4":32.185,"bin5":32.31,"mean":28.6},
{"s":124000,"bin1":26.28,"bin2":31.88,"bin3":32.2,"bin4":32.18,"bin5":32.32,"mean":28.54},
{"s":126000,"bin1":28.33,"bin2":31.86,"bin3":32.2,"bin4":32.175,"bin5":32.33,"mean":29.06},
{"s":128000,"bin1":26.4,"bin2":31.85,"bin3":32.19,"bin4":32.165,"bin5":32.33,"mean":28.75},
{"s":130000,"bin1":26.25,"bin2":31.82,"bin3":32.18,"bin4":32.15,"bin5":32.32,"mean":28.2},
{"s":134000,"bin1":26.05,"bin2":31.75,"bin3":32.15,"bin4":32.13,"bin5":32.28,"mean":28.01},
{"s":138000,"bin1":25.86,"bin2":31.66,"bin3":32.12,"bin4":32.1,"bin5":32.2,"mean":27.86},
{"s":142000,"bin1":25.7,"bin2":31.42,"bin3":32.08,"bin4":32.07,"bin5":32.12,"mean":27.68},
{"s":146000,"bin1":25.53,"bin2":31.15,"bin3":32.05,"bin4":32.05,"bin5":32.05,"mean":27.48},
{"s":150000,"bin1":25.33,"bin2":30.95,"bin3":32.0,"bin4":32.01,"bin5":31.99,"mean":27.32},
{"s":154000,"bin1":25.1,"bin2":30.75,"bin3":31.95,"bin4":31.97,"bin5":31.95,"mean":27.1},
{"s":158000,"bin1":24.7,"bin2":30.67,"bin3":31.92,"bin4":31.94,"bin5":31.92,"mean":26.67},
{"s":162000,"bin1":24.25,"bin2":30.65,"bin3":31.94,"bin4":31.96,"bin5":31.9,"mean":26.24},
{"s":166000,"bin1":24.02,"bin2":30.63,"bin3":32.0,"bin4":32.0,"bin5":31.88,"mean":25.95},
{"s":170000,"bin1":23.87,"bin2":30.61,"bin3":32.04,"bin4":32.01,"bin5":31.86,"mean":25.77},
{"s":174000,"bin1":23.78,"bin2":30.6,"bin3":32.05,"bin4":32.02,"bin5":31.85,"mean":25.68},
{"s":178000,"bin1":23.72,"bin2":30.58,"bin3":32.06,"bin4":32.025,"bin5":31.84,"mean":25.64},
{"s":182000,"bin1":23.68,"bin2":30.57,"bin3":32.07,"bin4":32.03,"bin5":31.83,"mean":25.61},
{"s":186000,"bin1":23.65,"bin2":30.56,"bin3":32.06,"bin4":32.03,"bin5":31.83,"mean":25.57},
{"s":190000,"bin1":23.63,"bin2":30.55,"bin3":32.06,"bin4":32.03,"bin5":31.82,"mean":25.55},
{"s":194000,"bin1":23.62,"bin2":30.54,"bin3":32.06,"bin4":32.03,"bin5":31.82,"mean":25.54},
{"s":198000,"bin1":23.62,"bin2":30.54,"bin3":32.06,"bin4":32.03,"bin5":31.82,"mean":25.53},
{"s":200000,"bin1":23.62,"bin2":30.54,"bin3":32.06,"bin4":32.03,"bin5":31.82,"mean":25.53}
]
},
"spacing": 42,
"resolve": {"scale": {"color": "independent", "strokeDash": "independent"}, "legend": {"color": "independent", "strokeDash": "independent"}},
"vconcat": [
{
 "width": 970, "height": 1,
 "data": {"values": [{"a": 0}]},
 "view": {"stroke": null},
 "title": {"text": "The Power of Power Law: Asymmetry Enables Compositional Reasoning", "font": "Liberation Serif", "fontSize": 18, "fontWeight": "bold", "color": "black", "anchor": "middle", "offset": 4},
 "mark": {"type": "rule", "color": "black", "strokeWidth": 2},
 "encoding": {"y": {"datum": 0, "type": "quantitative", "scale": {"domain": [0, 1]}, "axis": null}}
},
{
 "spacing": 12.5,
 "resolve": {"scale": {"color": "independent", "strokeDash": "independent"}, "legend": {"color": "independent", "strokeDash": "independent"}},
 "vconcat": [
 {"hconcat": [
  {"width": 184, "height": 1, "data": {"values": []}, "mark": "point", "view": {"stroke": null}},
  {"width": 229, "height": 181, "title": "Stratified: Test Loss (Log Scale)", "data": {"name": "loss1"},
   "transform": [{"fold": ["bin1","bin2","bin3","bin4","bin5","mean"], "as": ["k","v"]}],
   "encoding": {
    "x": {"field": "s", "type": "quantitative", "scale": {"domain": [-7900, 209900], "nice": false, "zero": false}, "axis": {"values": [0,25000,50000,75000,100000,125000,150000,175000,200000], "format": "d", "title": "Steps"}},
    "y": {"field": "v", "type": "quantitative", "scale": {"type": "log", "domain": [32.18175, 32.19324], "nice": false, "zero": false}, "axis": {"title": "Loss", "values": [32.182,32.184,32.186,32.188,32.19,32.192], "labelExpr": "format(datum.value/10, '.6~g') + '\u2002×\u200210¹'"}}
   },
   "layer": [
    {"transform": [{"filter": "datum.k != 'mean'"}], "mark": {"type": "line", "strokeWidth": 1.1, "opacity": 0.9},
     "encoding": {"color": {"field": "k", "type": "nominal", "scale": {"domain": ["bin1","bin2","bin3","bin4","bin5"], "range": ["#41049d","#8f0da4","#cc4778","#f2844b","#fcce25"]}, "legend": null}}},
    {"transform": [{"filter": "datum.k == 'mean'"}], "mark": {"type": "line", "color": "black", "strokeWidth": 1.8, "strokeDash": [4.5, 2.2]}}
   ]},
  {"width": 230, "height": 181, "title": "Stratified: Test Accuracy", "data": {"name": "acc"},
   "mark": {"type": "line", "strokeWidth": 1.5},
   "encoding": {
    "x": {"field": "s", "type": "quantitative", "scale": {"domain": [-7900, 209900], "nice": false, "zero": false}, "axis": {"values": [0,25000,50000,75000,100000,125000,150000,175000,200000], "format": "d", "title": "Steps"}},
    "y": {"field": "acc", "type": "quantitative", "scale": {"domain": [-0.05, 1.05], "nice": false, "zero": false}, "axis": {"values": [0,0.2,0.4,0.6,0.8,1], "format": ".1f", "title": "Last Perm. Exact Match Acc", "titlePadding": 5}},
    "color": {"field": "series", "type": "nominal", "scale": {"domain": ["Bin 1: 0.0-20.0% (Head)","Bin 2: 20.0-40.0%","Bin 3: 40.0-60.0%","Bin 4: 60.0-80.0%","Bin 5: 80.0-100.0% (Tail)","Avg (k-hop)"], "range": ["#41049d","#8f0da4","#cc4778","#f2844b","#fcce25","black"]}, "legend": {"title": null}},
    "strokeDash": {"field": "series", "type": "nominal", "scale": {"domain": ["Bin 1: 0.0-20.0% (Head)","Bin 2: 20.0-40.0%","Bin 3: 40.0-60.0%","Bin 4: 60.0-80.0%","Bin 5: 80.0-100.0% (Tail)","Avg (k-hop)"], "range": [[1,0],[1,0],[1,0],[1,0],[1,0],[4,2]]}, "legend": {"title": null}}
   }}
 ], "spacing": 11, "resolve": {"scale": {"color": "independent", "strokeDash": "independent"}, "legend": {"color": "independent", "strokeDash": "independent"}}},
 {"hconcat": [
  {"width": 184, "height": 1, "data": {"values": []}, "mark": "point", "view": {"stroke": null}},
  {"width": 229, "height": 181, "title": "Stratified: Test Loss (Log Scale)", "data": {"name": "loss2"},
   "transform": [{"fold": ["bin1","bin2","bin3","bin4","bin5","mean"], "as": ["k","v"]}],
   "encoding": {
    "x": {"field": "s", "type": "quantitative", "scale": {"domain": [-7900, 209900], "nice": false, "zero": false}, "axis": {"values": [0,25000,50000,75000,100000,125000,150000,175000,200000], "format": "d", "title": "Steps"}},
    "y": {"field": "v", "type": "quantitative", "scale": {"type": "log", "domain": [32.18208, 32.19606], "nice": false, "zero": false}, "axis": {"title": "Loss", "values": [32.184,32.186,32.188,32.19,32.192,32.194,32.196], "labelExpr": "format(datum.value/10, '.6~g') + '\u2002×\u200210¹'"}}
   },
   "layer": [
    {"transform": [{"filter": "datum.k != 'mean'"}], "mark": {"type": "line", "strokeWidth": 1.1, "opacity": 0.9},
     "encoding": {"color": {"field": "k", "type": "nominal", "scale": {"domain": ["bin1","bin2","bin3","bin4","bin5"], "range": ["#41049d","#8f0da4","#cc4778","#f2844b","#fcce25"]}, "legend": null}}},
    {"transform": [{"filter": "datum.k == 'mean'"}], "mark": {"type": "line", "color": "black", "strokeWidth": 1.8, "strokeDash": [4.5, 2.2]}}
   ]},
  {"width": 230, "height": 181, "title": "Stratified: Test Accuracy", "data": {"name": "acc"},
   "mark": {"type": "line", "strokeWidth": 1.5},
   "encoding": {
    "x": {"field": "s", "type": "quantitative", "scale": {"domain": [-7900, 209900], "nice": false, "zero": false}, "axis": {"values": [0,25000,50000,75000,100000,125000,150000,175000,200000], "format": "d", "title": "Steps"}},
    "y": {"field": "acc", "type": "quantitative", "scale": {"domain": [-0.05, 1.05], "nice": false, "zero": false}, "axis": {"values": [0,0.2,0.4,0.6,0.8,1], "format": ".1f", "title": "Last Perm. Exact Match Acc", "titlePadding": 5}},
    "color": {"field": "series", "type": "nominal", "scale": {"domain": ["Bin 1: 0.0-20.0% (Head)","Bin 2: 20.0-40.0%","Bin 3: 40.0-60.0%","Bin 4: 60.0-80.0%","Bin 5: 80.0-100.0% (Tail)","Avg (k-hop)"], "range": ["#41049d","#8f0da4","#cc4778","#f2844b","#fcce25","black"]}, "legend": {"title": null}},
    "strokeDash": {"field": "series", "type": "nominal", "scale": {"domain": ["Bin 1: 0.0-20.0% (Head)","Bin 2: 20.0-40.0%","Bin 3: 40.0-60.0%","Bin 4: 60.0-80.0%","Bin 5: 80.0-100.0% (Tail)","Avg (k-hop)"], "range": [[1,0],[1,0],[1,0],[1,0],[1,0],[4,2]]}, "legend": {"title": null}}
   }}
 ], "spacing": 11, "resolve": {"scale": {"color": "independent", "strokeDash": "independent"}, "legend": {"color": "independent", "strokeDash": "independent"}}},
 {"hconcat": [
  {"width": 184, "height": 1, "data": {"values": []}, "mark": "point", "view": {"stroke": null}},
  {"width": 229, "height": 181, "title": "Stratified: Test Loss (Log Scale)", "data": {"name": "loss3"},
   "transform": [{"fold": ["bin1","bin2","bin3","bin4","bin5","mean"], "as": ["k","v"]}],
   "encoding": {
    "x": {"field": "s", "type": "quantitative", "scale": {"domain": [-7900, 209900], "nice": false, "zero": false}, "axis": {"values": [0,25000,50000,75000,100000,125000,150000,175000,200000], "format": "d", "title": "Steps"}},
    "y": {"field": "v", "type": "quantitative", "scale": {"type": "log", "domain": [32.16392, 32.19651], "nice": false, "zero": false}, "axis": {"title": "Loss", "values": [32.165,32.17,32.175,32.18,32.185,32.19,32.195], "labelExpr": "format(datum.value/10, '.6~g') + '\u2002×\u200210¹'"}}
   },
   "layer": [
    {"transform": [{"filter": "datum.k != 'mean'"}], "mark": {"type": "line", "strokeWidth": 1.1, "opacity": 0.9},
     "encoding": {"color": {"field": "k", "type": "nominal", "scale": {"domain": ["bin1","bin2","bin3","bin4","bin5"], "range": ["#41049d","#8f0da4","#cc4778","#f2844b","#fcce25"]}, "legend": null}}},
    {"transform": [{"filter": "datum.k == 'mean'"}], "mark": {"type": "line", "color": "black", "strokeWidth": 1.8, "strokeDash": [4.5, 2.2]}}
   ]},
  {"width": 230, "height": 181, "title": "Stratified: Test Accuracy", "data": {"name": "acc"},
   "mark": {"type": "line", "strokeWidth": 1.5},
   "encoding": {
    "x": {"field": "s", "type": "quantitative", "scale": {"domain": [-7900, 209900], "nice": false, "zero": false}, "axis": {"values": [0,25000,50000,75000,100000,125000,150000,175000,200000], "format": "d", "title": "Steps"}},
    "y": {"field": "acc", "type": "quantitative", "scale": {"domain": [-0.05, 1.05], "nice": false, "zero": false}, "axis": {"values": [0,0.2,0.4,0.6,0.8,1], "format": ".1f", "title": "Last Perm. Exact Match Acc", "titlePadding": 5}},
    "color": {"field": "series", "type": "nominal", "scale": {"domain": ["Bin 1: 0.0-20.0% (Head)","Bin 2: 20.0-40.0%","Bin 3: 40.0-60.0%","Bin 4: 60.0-80.0%","Bin 5: 80.0-100.0% (Tail)","Avg (k-hop)"], "range": ["#41049d","#8f0da4","#cc4778","#f2844b","#fcce25","black"]}, "legend": {"title": null}},
    "strokeDash": {"field": "series", "type": "nominal", "scale": {"domain": ["Bin 1: 0.0-20.0% (Head)","Bin 2: 20.0-40.0%","Bin 3: 40.0-60.0%","Bin 4: 60.0-80.0%","Bin 5: 80.0-100.0% (Tail)","Avg (k-hop)"], "range": [[1,0],[1,0],[1,0],[1,0],[1,0],[4,2]]}, "legend": {"title": null}}
   }}
 ], "spacing": 11, "resolve": {"scale": {"color": "independent", "strokeDash": "independent"}, "legend": {"color": "independent", "strokeDash": "independent"}}},
 {"hconcat": [
  {"width": 184, "height": 1, "data": {"values": []}, "mark": "point", "view": {"stroke": null}},
  {"width": 231, "height": 181, "title": "Stratified: Test Loss (Log Scale)", "data": {"name": "loss4"},
   "transform": [{"fold": ["bin1","bin2","bin3","bin4","bin5","mean"], "as": ["k","v"]}],
   "encoding": {
    "x": {"field": "s", "type": "quantitative", "scale": {"domain": [-7900, 209900], "nice": false, "zero": false}, "axis": {"values": [0,25000,50000,75000,100000,125000,150000,175000,200000], "format": "d", "title": "Steps"}},
    "y": {"field": "v", "type": "quantitative", "scale": {"type": "log", "domain": [31.279, 32.285], "nice": false, "zero": false}, "axis": {"title": "Loss", "values": [31.4,31.6,31.8,32,32.2], "labelExpr": "format(datum.value/10, '.6~g') + '\u2002×\u200210¹'"}}
   },
   "layer": [
    {"transform": [{"filter": "datum.k != 'mean'"}], "mark": {"type": "line", "strokeWidth": 1.1, "opacity": 0.9},
     "encoding": {"color": {"field": "k", "type": "nominal", "scale": {"domain": ["bin1","bin2","bin3","bin4","bin5"], "range": ["#41049d","#8f0da4","#cc4778","#f2844b","#fcce25"]}, "legend": null}}},
    {"transform": [{"filter": "datum.k == 'mean'"}], "mark": {"type": "line", "color": "black", "strokeWidth": 1.8, "strokeDash": [4.5, 2.2]}}
   ]},
  {"width": 234, "height": 181, "title": "Stratified: Test Accuracy", "data": {"name": "acc"},
   "mark": {"type": "line", "strokeWidth": 1.5},
   "encoding": {
    "x": {"field": "s", "type": "quantitative", "scale": {"domain": [-7900, 209900], "nice": false, "zero": false}, "axis": {"values": [0,25000,50000,75000,100000,125000,150000,175000,200000], "format": "d", "title": "Steps"}},
    "y": {"field": "acc", "type": "quantitative", "scale": {"domain": [-0.05, 1.05], "nice": false, "zero": false}, "axis": {"values": [0,0.2,0.4,0.6,0.8,1], "format": ".1f", "title": "Last Perm. Exact Match Acc", "titlePadding": 5}},
    "color": {"field": "series", "type": "nominal", "scale": {"domain": ["Bin 1: 0.0-20.0% (Head)","Bin 2: 20.0-40.0%","Bin 3: 40.0-60.0%","Bin 4: 60.0-80.0%","Bin 5: 80.0-100.0% (Tail)","Avg (k-hop)"], "range": ["#41049d","#8f0da4","#cc4778","#f2844b","#fcce25","black"]}, "legend": {"title": null}},
    "strokeDash": {"field": "series", "type": "nominal", "scale": {"domain": ["Bin 1: 0.0-20.0% (Head)","Bin 2: 20.0-40.0%","Bin 3: 40.0-60.0%","Bin 4: 60.0-80.0%","Bin 5: 80.0-100.0% (Tail)","Avg (k-hop)"], "range": [[1,0],[1,0],[1,0],[1,0],[1,0],[4,2]]}, "legend": {"title": null}}
   }}
 ], "spacing": 11, "resolve": {"scale": {"color": "independent", "strokeDash": "independent"}, "legend": {"color": "independent", "strokeDash": "independent"}}},
 {"hconcat": [
  {"width": 184, "height": 1, "data": {"values": []}, "mark": "point", "view": {"stroke": null}},
  {"width": 236, "height": 181, "title": "Stratified: Test Loss (Log Scale)", "data": {"name": "loss5"},
   "transform": [{"fold": ["bin1","bin2","bin3","bin4","bin5","mean"], "as": ["k","v"]}],
   "encoding": {
    "x": {"field": "s", "type": "quantitative", "scale": {"domain": [-7900, 209900], "nice": false, "zero": false}, "axis": {"values": [0,25000,50000,75000,100000,125000,150000,175000,200000], "format": "d", "title": "Steps"}},
    "y": {"field": "v", "type": "quantitative", "scale": {"type": "log", "domain": [23.226, 32.888], "nice": false, "zero": false}, "axis": {"title": "Loss", "values": [24,26,28,30,32], "labelExpr": "format(datum.value/10, '.6~g') + '\u2002×\u200210¹'"}}
   },
   "layer": [
    {"transform": [{"filter": "datum.k != 'mean'"}], "mark": {"type": "line", "strokeWidth": 1.1, "opacity": 0.9},
     "encoding": {"color": {"field": "k", "type": "nominal", "scale": {"domain": ["bin1","bin2","bin3","bin4","bin5"], "range": ["#41049d","#8f0da4","#cc4778","#f2844b","#fcce25"]}, "legend": null}}},
    {"transform": [{"filter": "datum.k == 'mean'"}], "mark": {"type": "line", "color": "black", "strokeWidth": 1.8, "strokeDash": [4.5, 2.2]}}
   ]},
  {"width": 236, "height": 181, "title": "Stratified: Test Accuracy", "data": {"name": "acc"},
   "mark": {"type": "line", "strokeWidth": 1.5},
   "encoding": {
    "x": {"field": "s", "type": "quantitative", "scale": {"domain": [-7900, 209900], "nice": false, "zero": false}, "axis": {"values": [0,25000,50000,75000,100000,125000,150000,175000,200000], "format": "d", "title": "Steps"}},
    "y": {"field": "acc", "type": "quantitative", "scale": {"domain": [-0.05, 1.05], "nice": false, "zero": false}, "axis": {"values": [0,0.2,0.4,0.6,0.8,1], "format": ".1f", "title": "Last Perm. Exact Match Acc", "titlePadding": 5}},
    "color": {"field": "series", "type": "nominal", "scale": {"domain": ["Bin 1: 0.0-20.0% (Head)","Bin 2: 20.0-40.0%","Bin 3: 40.0-60.0%","Bin 4: 60.0-80.0%","Bin 5: 80.0-100.0% (Tail)","Avg (k-hop)"], "range": ["#41049d","#8f0da4","#cc4778","#f2844b","#fcce25","black"]}, "legend": {"title": null}},
    "strokeDash": {"field": "series", "type": "nominal", "scale": {"domain": ["Bin 1: 0.0-20.0% (Head)","Bin 2: 20.0-40.0%","Bin 3: 40.0-60.0%","Bin 4: 60.0-80.0%","Bin 5: 80.0-100.0% (Tail)","Avg (k-hop)"], "range": [[1,0],[1,0],[1,0],[1,0],[1,0],[4,2]]}, "legend": {"title": null}}
   }}
 ], "spacing": 11, "resolve": {"scale": {"color": "independent", "strokeDash": "independent"}, "legend": {"color": "independent", "strokeDash": "independent"}}}
 ]
}
]
}
